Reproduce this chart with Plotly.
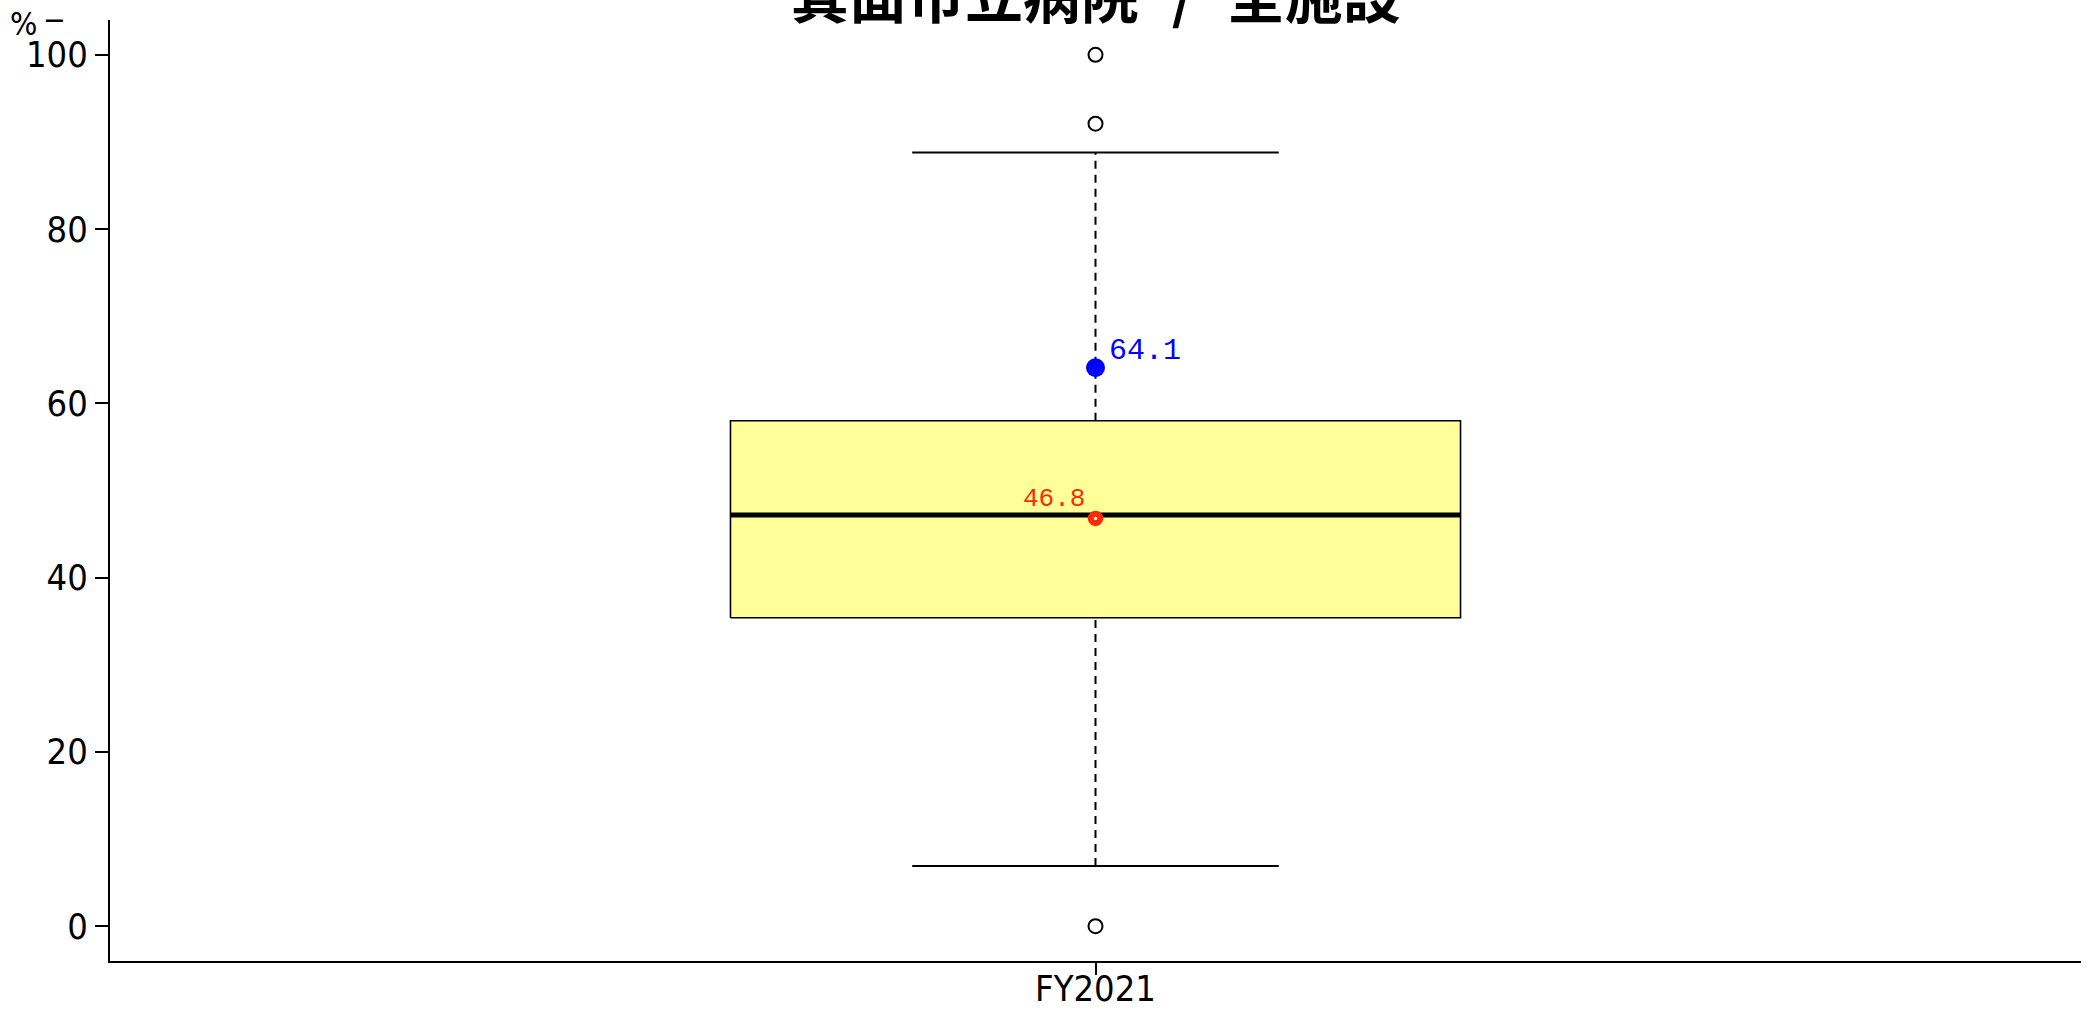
import plotly.graph_objects as go

# ---- data ----
categories = ["FY2021"]
q1 = [35.4]
median = [47.2]
q3 = [58.0]
whisker_low = [6.9]
whisker_high = [88.8]
outliers = [100.0, 92.1, 0.0]
hospital_value = [64.1]
mean_value = [46.8]
y_ticks = [0, 20, 40, 60, 80, 100]
title_text = "箕面市立病院\u2002\u200a/\u200a\u2002全施設"
unit_label = "%"

# ---- style / layout constants ----
BOX_HW = 0.3704
CAP_HW = 0.186
TICK_FONT = "DejaVu Sans Condensed, Liberation Sans, Arial"
MONO = "Liberation Mono, DejaVu Sans Mono, monospace"
W, H = 2089, 1012
ML, MR, MT, MB = 110, 8, 20, 51
PW, PH = W - ML - MR, H - MT - MB

fig = go.Figure()
for i, cat in enumerate(categories):
    c = i
    fig.add_trace(go.Scatter(
        x=[c - BOX_HW, c + BOX_HW, c + BOX_HW, c - BOX_HW, c - BOX_HW],
        y=[q1[i], q1[i], q3[i], q3[i], q1[i]],
        mode="lines", fill="toself", fillcolor="#FFFF99",
        line=dict(color="black", width=1.6), hoverinfo="skip", showlegend=False))
    fig.add_trace(go.Scatter(
        x=[c - BOX_HW, c + BOX_HW], y=[median[i], median[i]],
        mode="lines", line=dict(color="black", width=5), showlegend=False))
    fig.add_trace(go.Scatter(
        x=[c, c], y=[q3[i], whisker_high[i]], mode="lines",
        line=dict(color="black", width=2, dash="8px,6px"), showlegend=False))
    fig.add_trace(go.Scatter(
        x=[c, c], y=[whisker_low[i], q1[i]], mode="lines",
        line=dict(color="black", width=2, dash="8px,6px"), showlegend=False))
    for w in (whisker_low[i], whisker_high[i]):
        fig.add_trace(go.Scatter(
            x=[c - CAP_HW, c + CAP_HW], y=[w, w], mode="lines",
            line=dict(color="black", width=2), showlegend=False))
    fig.add_trace(go.Scatter(
        x=[c] * len(outliers), y=outliers, mode="markers",
        marker=dict(symbol="circle", size=14, color="white",
                    line=dict(color="black", width=2)), showlegend=False))
    fig.add_trace(go.Scatter(
        x=[c], y=[mean_value[i]], mode="markers",
        marker=dict(symbol="circle", size=9.5, color="white",
                    line=dict(color="#FF2A00", width=6)), showlegend=False))
    fig.add_annotation(x=c, y=mean_value[i], text=f"{mean_value[i]:.1f}",
                       showarrow=False, xanchor="right", yanchor="bottom",
                       xshift=-9, yshift=2,
                       font=dict(family=MONO, size=26, color="#FF2A00"))
    fig.add_trace(go.Scatter(
        x=[c], y=[hospital_value[i]], mode="markers",
        marker=dict(symbol="circle", size=19, color="#0000FF"), showlegend=False))
    fig.add_annotation(x=c, y=hospital_value[i], text=f"{hospital_value[i]:.1f}",
                       showarrow=False, xanchor="left", yanchor="bottom",
                       xshift=11, yshift=-2,
                       font=dict(family=MONO, size=30, color="#0000FF"))

# unit label and dash at top-left
fig.add_annotation(xref="paper", yref="paper", x=(23.5 - ML) / PW, y=1 - 4 / PH,
                   xanchor="center", yanchor="middle", text=unit_label, showarrow=False,
                   font=dict(family=TICK_FONT, size=32, color="black"))
fig.add_annotation(xref="paper", yref="paper", x=(54.5 - ML) / PW, y=1 + 1 / PH,
                   xanchor="center", yanchor="middle", text="−", showarrow=False,
                   font=dict(family=TICK_FONT, size=30, color="black"))

# title (partly above the page, as in the reference)
fig.add_annotation(xref="paper", yref="paper", x=0.5, y=1.0, xanchor="center",
                   yanchor="middle", yshift=27, text=title_text, showarrow=False,
                   font=dict(family="Noto Sans CJK JP", size=58, color="black",
                             weight="bold"))

fig.update_layout(
    width=W, height=H,
    margin=dict(l=ML, r=MR, t=MT, b=MB),
    plot_bgcolor="white", paper_bgcolor="white",
    xaxis=dict(range=[-1, 1], tickvals=list(range(len(categories))), ticktext=categories,
               automargin=False, ticklabelstandoff=-17,
               showgrid=False, zeroline=False, showline=True, linecolor="black",
               linewidth=2, ticks="outside", ticklen=12, tickwidth=2, tickcolor="black",
               tickfont=dict(family=TICK_FONT, size=36, color="black")),
    yaxis=dict(range=[-4, 104], tickvals=y_ticks, showgrid=False, zeroline=False,
               automargin=False,
               showline=True, linecolor="black", linewidth=2, ticks="outside",
               ticklen=13, tickwidth=2, tickcolor="black",
               tickfont=dict(family=TICK_FONT, size=36, color="black")),
)

fig.write_html("out.html", config={"displayModeBar": False},
               post_script="document.body.style.margin='0px';document.body.style.overflow='hidden';")
